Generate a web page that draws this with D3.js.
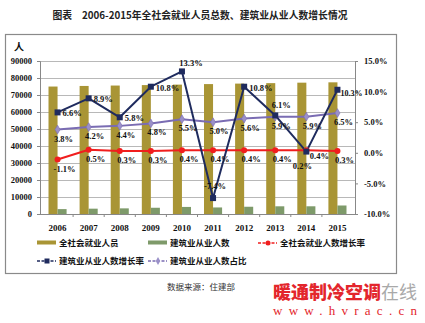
<!DOCTYPE html>
<html><head><meta charset="utf-8">
<script src="https://cdn.jsdelivr.net/npm/d3@7"></script>
<style>
html,body{margin:0;padding:0;background:#fff;}
svg{display:block;}
</style></head>
<body>
<svg id="c" width="425" height="323"></svg>
<script>
// ---- data ----
const years = ["2006","2007","2008","2009","2010","2011","2012","2013","2014","2015"];
const totalEmployed = [74978,75321,75564,75828,76105,76420,76704,76977,77253,77451];
const constructionEmployed = [2878,3134,3315,3673,4160,3852,4268,4527,4536,5003];
const totalGrowth = [-1.1,0.5,0.3,0.3,0.4,0.4,0.4,0.4,0.4,0.3];
const constructionGrowth = [6.6,8.9,5.8,10.8,13.3,-7.4,10.8,6.1,0.2,10.3];
const constructionShare = [3.8,4.2,4.4,4.8,5.5,5.0,5.6,5.9,5.9,6.5];
const leftTicks = [0,10000,20000,30000,40000,50000,60000,70000,80000,90000];
const rightTicks = [-10,-5,0,5,10,15];
const seriesNames = ["全社会就业人员","建筑业从业人数","全社会就业人数增长率","建筑业从业人数增长率","建筑业从业人数占比"];
const titleText = "图表　2006-2015年全社会就业人员总数、建筑业从业人数增长情况";
const unitText = "人";
const sourceText = "数据来源：住建部";

// ---- drawing ----
const svg = d3.select("#c");
const serif = "'Liberation Serif','Times New Roman',serif";
const cjk = "'Noto Sans CJK SC','Noto Sans',sans-serif";
const C = {gold:"#A99535", green:"#7E9A6A", red:"#F01E1E", blue:"#1F2B5E", purple:"#7A6CB3", purpleM:"#9A90C8"};

// frame
svg.append("rect").attr("x",5.5).attr("y",34.5).attr("width",391).attr("height",239)
  .attr("fill","none").attr("stroke","#8a8a8a").attr("stroke-width",1.2);

svg.append("text").attr("x",200).attr("y",19).attr("text-anchor","middle")
  .attr("font-family",cjk).attr("font-weight",700).attr("font-size",10).attr("fill","#222")
  .attr("textLength",295).attr("lengthAdjust","spacingAndGlyphs").text(titleText);

const x = d3.scaleBand().domain(years).range([42,353]);
const xs = d3.scaleBand().domain(["t","c"]).range([0,x.bandwidth()]).paddingInner(0).paddingOuter(0.72);
const yL = d3.scaleLinear().domain([0,90000]).range([214,61]);
const yR = d3.scaleLinear().domain([-10,15]).range([214,61]);
const cx = d => x(d) + x.bandwidth()/2;

// grid
svg.append("g").selectAll("line").data(leftTicks.slice(1)).join("line")
  .attr("x1",40).attr("x2",355).attr("y1",d=>Math.round(yL(d))+0.5).attr("y2",d=>Math.round(yL(d))+0.5)
  .attr("stroke","#b8b8b8").attr("stroke-width",1);

// axes
const axL = svg.append("g").attr("transform","translate(40,0)")
  .call(d3.axisLeft(yL).tickValues(leftTicks).tickSize(3).tickPadding(5).tickFormat(d3.format("d")));
const axR = svg.append("g").attr("transform","translate(355,0)")
  .call(d3.axisRight(yR).tickValues(rightTicks).tickSize(3).tickPadding(6).tickFormat(d=>d.toFixed(1)+"%"));
const axB = svg.append("g").attr("transform","translate(0,214)")
  .call(d3.axisBottom(x).tickSize(0).tickPadding(11));
[axL,axR,axB].forEach(a=>{
  a.selectAll("path").attr("stroke","#888");
  a.selectAll("line").attr("stroke","#888");
  a.selectAll("text").attr("font-family",serif).attr("font-weight",700).attr("font-size",8.5).attr("fill","#111");
});
axB.select("path").attr("d","M40,0.5H355");
axB.selectAll("text").attr("font-size",9);
// category separator ticks
svg.append("g").selectAll("line").data(years.slice(1)).join("line")
  .attr("x1",d=>x(d)).attr("x2",d=>x(d)).attr("y1",214).attr("y2",217).attr("stroke","#888");

svg.append("text").attr("x",19).attr("y",51).attr("text-anchor","middle")
  .attr("font-family",cjk).attr("font-weight",700).attr("font-size",10).attr("fill","#111").text(unitText);

// bars
svg.append("g").selectAll("rect").data(years).join("rect")
  .attr("x",(d)=>x(d)+xs("t")).attr("width",xs.bandwidth())
  .attr("y",(d,i)=>yL(totalEmployed[i])).attr("height",(d,i)=>yL(0)-yL(totalEmployed[i]))
  .attr("fill",C.gold);
svg.append("g").selectAll("rect").data(years).join("rect")
  .attr("x",(d)=>x(d)+xs("c")).attr("width",xs.bandwidth())
  .attr("y",(d,i)=>yL(constructionEmployed[i])).attr("height",(d,i)=>yL(0)-yL(constructionEmployed[i]))
  .attr("fill",C.green);

// lines
const line = d3.line().x(d=>cx(d[0])).y(d=>yR(d[1]));
function drawLine(vals,color,w){
  svg.append("path").datum(years.map((y,i)=>[y,vals[i]])).attr("d",line)
    .attr("fill","none").attr("stroke",color).attr("stroke-width",w).attr("stroke-linejoin","round");
}
drawLine(totalGrowth,C.red,2);
drawLine(constructionShare,C.purple,2);
drawLine(constructionGrowth,C.blue,2);

svg.append("g").selectAll("circle").data(years).join("circle")
  .attr("cx",cx).attr("cy",(d,i)=>yR(totalGrowth[i])).attr("r",3).attr("fill",C.red);
svg.append("g").selectAll("path").data(years).join("path")
  .attr("transform",(d,i)=>`translate(${cx(d)},${yR(constructionShare[i])})`)
  .attr("d",d3.symbol(d3.symbolDiamond,22)).attr("fill",C.purpleM).attr("stroke",C.purple).attr("stroke-width",0.6);
svg.append("g").selectAll("rect").data(years).join("rect")
  .attr("x",d=>cx(d)-3).attr("y",(d,i)=>yR(constructionGrowth[i])-3).attr("width",6).attr("height",6).attr("fill",C.blue);

// labels
const pct = v => v.toFixed(1)+"%";
function lab(g,xx,yy,t,anchor,fs){
  g.append("text").attr("x",xx).attr("y",yy).attr("text-anchor",anchor||"middle")
    .attr("font-family",serif).attr("font-weight",700).attr("font-size",fs||8.5).attr("fill","#111").text(t);
}
const gl = svg.append("g");
const redPlace = {"2014":[13,9]};
years.forEach((y,i)=>{
  const p = redPlace[y] || [7,12];
  lab(gl,cx(y)+p[0],yR(totalGrowth[i])+p[1],pct(totalGrowth[i]));
  lab(gl,cx(y)+6,yR(constructionShare[i])+12,pct(constructionShare[i]));
});
// blue label placement
const bluePlace = {"2010":[9,-5,"middle"],"2011":[2,-9,"middle"],"2013":[6,-7,"middle"],"2014":[-4,17,"middle"],"2015":[3,6,"start"]};
years.forEach((y,i)=>{
  const p = bluePlace[y] || [5,4,"start"];
  lab(gl,cx(y)+p[0],yR(constructionGrowth[i])+p[1],pct(constructionGrowth[i]),p[2],y==="2015"?8:8.5);
});

// legend
const lg = svg.append("g").attr("font-family",cjk).attr("font-weight",700).attr("font-size",8.5).attr("fill","#111");
const legendItems = [
  {name:seriesNames[0],x:37,y:243,type:"bar",color:C.gold},
  {name:seriesNames[1],x:148,y:243,type:"bar",color:C.green},
  {name:seriesNames[2],x:258,y:243,type:"circle",color:C.red},
  {name:seriesNames[3],x:37,y:261,type:"square",color:C.blue},
  {name:seriesNames[4],x:148,y:261,type:"diamond",color:C.purple}
];
legendItems.forEach(it=>{
  if(it.type==="bar"){
    lg.append("rect").attr("x",it.x).attr("y",it.y-2.5).attr("width",19).attr("height",4).attr("fill",it.color);
  } else {
    lg.append("line").attr("x1",it.x).attr("x2",it.x+19).attr("y1",it.y).attr("y2",it.y)
      .attr("stroke",it.color).attr("stroke-width",1.5).attr("stroke-dasharray","3,1.5");
    if(it.type==="circle") lg.append("circle").attr("cx",it.x+10).attr("cy",it.y).attr("r",2.5).attr("fill",it.color);
    if(it.type==="square") lg.append("rect").attr("x",it.x+7.5).attr("y",it.y-2.5).attr("width",5).attr("height",5).attr("fill",it.color);
    if(it.type==="diamond") lg.append("path").attr("transform",`translate(${it.x+10},${it.y})`)
      .attr("d",d3.symbol(d3.symbolDiamond,18)).attr("fill",C.purpleM);
  }
  lg.append("text").attr("x",it.x+22).attr("y",it.y+3).text(it.name);
});

// source
svg.append("text").attr("x",201).attr("y",290).attr("text-anchor","middle")
  .attr("font-family",cjk).attr("font-size",8.5).attr("fill","#333").text(sourceText);

// watermark
const wm = svg.append("text").attr("x",273).attr("y",299).attr("font-family",cjk).attr("font-weight",900).attr("font-size",18);
wm.append("tspan").attr("fill","#E3262C").text("暖通制冷空调");
wm.append("tspan").attr("fill","#a9a9a9").attr("font-weight",400).text("在线");
svg.append("text").attr("x",273).attr("y",315).attr("font-family",serif).attr("font-size",13).attr("fill","#E3262C")
  .attr("textLength",144).attr("lengthAdjust","spacing").text("www.hvrac.cn");
</script>
</body></html>
